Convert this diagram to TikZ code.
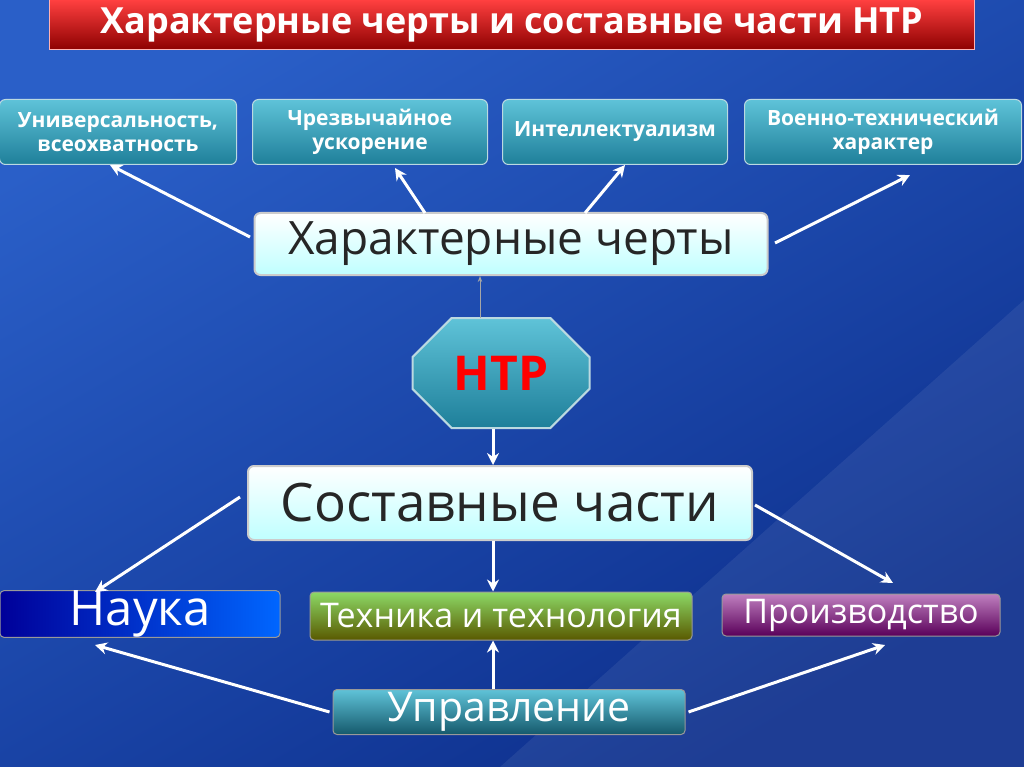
\documentclass[tikz,border=0pt]{standalone}
\usepackage{fontspec}
\setmainfont{Open Sans}
\usetikzlibrary{shapes.misc,arrows.meta,shadows}
\definecolor{bgA}{HTML}{0D2F8C}
\definecolor{bgB}{HTML}{2A5FC8}
\definecolor{tealA}{HTML}{1E7F9A}
\definecolor{tealB}{HTML}{5FC3D8}
\tikzset{
 px/.style={x=1pt,y=-1pt},
 topbox/.style={draw=white!70!tealA,line width=1pt,rounded corners=6pt,top color=tealB,bottom color=tealA,text=white,font=\bfseries\fontsize{21}{24}\selectfont,align=center,inner sep=0pt},
 midbox/.style={draw=white!80!black,line width=2pt,rounded corners=6pt,top color=white,bottom color=cyan!25!white,text=black!85,inner sep=0pt},
 lowbox/.style={draw=white!60!black,line width=1pt,rounded corners=4pt,text=white,inner sep=0pt},
 arr/.style={white,line width=3pt,-{Stealth[length=12pt,width=12pt]}},
}
\begin{document}
\begin{tikzpicture}[px]
\useasboundingbox (0,0) rectangle (1024,767);
\shade[top color=bgB,bottom color=bgA,shading angle=30] (0,0) rectangle (1024,767);
\fill[white,opacity=0.07] (500,767) -- (1024,300) -- (1024,767) -- cycle;
% title
\node[draw=white!70!red,line width=1pt,top color=red!75!white,bottom color=red!55!black,minimum width=925pt,minimum height=50pt,inner sep=0pt,text=white,font=\bfseries\fontsize{36}{40}\selectfont] (title) at (512,25) {Характерные черты и составные части НТР};
% top boxes
\node[topbox,minimum width=237pt,minimum height=65pt] (t1) at (118,132) {Универсальность,\\всеохватность};
\node[topbox,minimum width=235pt,minimum height=65pt] (t2) at (370,132) {Чрезвычайное\\ускорение};
\node[topbox,minimum width=225pt,minimum height=65pt] (t3) at (615,132) {Интеллектуализм};
\node[topbox,minimum width=277pt,minimum height=65pt] (t4) at (883,132) {Военно-технический\\характер};
% features
\node[midbox,minimum width=513pt,minimum height=62pt,font=\fontsize{46}{50}\selectfont] (feat) at (511,244) {Характерные черты};
% HTR
\node[chamfered rectangle,chamfered rectangle xsep=22pt,chamfered rectangle ysep=22pt,draw=white!70!tealA,line width=2pt,top color=tealB,bottom color=tealA,minimum width=177pt,minimum height=110pt,inner sep=0pt,text=red,font=\bfseries\fontsize{48}{52}\selectfont] (htr) at (501,373) {НТР};
% parts
\node[midbox,minimum width=504pt,minimum height=74pt,font=\fontsize{53}{56}\selectfont] (parts) at (500,503) {Составные части};
% bottom
\node[lowbox,minimum width=280pt,minimum height=45pt,left color=blue!60!black,right color=cyan!40!blue,font=\fontsize{49}{52}\selectfont] (sci) at (140,614) {Наука};
\node[lowbox,minimum width=382pt,minimum height=48pt,top color=green!50!olive!60!white,bottom color=olive!70!black,font=\fontsize{34}{37}\selectfont] (tech) at (501,616) {Техника и технология};
\node[lowbox,minimum width=278pt,minimum height=42pt,top color=violet!50!white,bottom color=violet!70!black,font=\fontsize{34}{37}\selectfont] (prod) at (861,615) {Производство};
\node[lowbox,minimum width=352pt,minimum height=45pt,top color=tealB,bottom color=tealA!70!black,font=\fontsize{41}{44}\selectfont] (upr) at (509,712) {Управление};
% arrows
\coordinate (a1) at (110,165); \coordinate (a2) at (395,168);
\coordinate (a3) at (625,165); \coordinate (a4) at (910,175);
\draw[arr] (250,237) -- (a1);
\draw[arr] (425,213) -- (a2);
\draw[arr] (585,213) -- (a3);
\draw[arr] (775,243) -- (a4);
\draw[gray!70,line width=1pt,-{Stealth[length=6pt]}] (480,318) -- (480,276);
\draw[arr] (htr.south -| 493,0) -- (parts.north -| 493,0);
\draw[arr] (240,497) -- (95,592);
\draw[arr] (parts.south -| 493,0) -- (tech.north -| 493,0);
\draw[arr] (755,505) -- (893,583);
\draw[arr] (upr.west) ++(-3,0) -- (95,645);
\draw[arr] (upr.north -| 493,0) -- (tech.south -| 493,0);
\draw[arr] (upr.east) ++(3,0) -- (885,645);
\end{tikzpicture}
\end{document}
